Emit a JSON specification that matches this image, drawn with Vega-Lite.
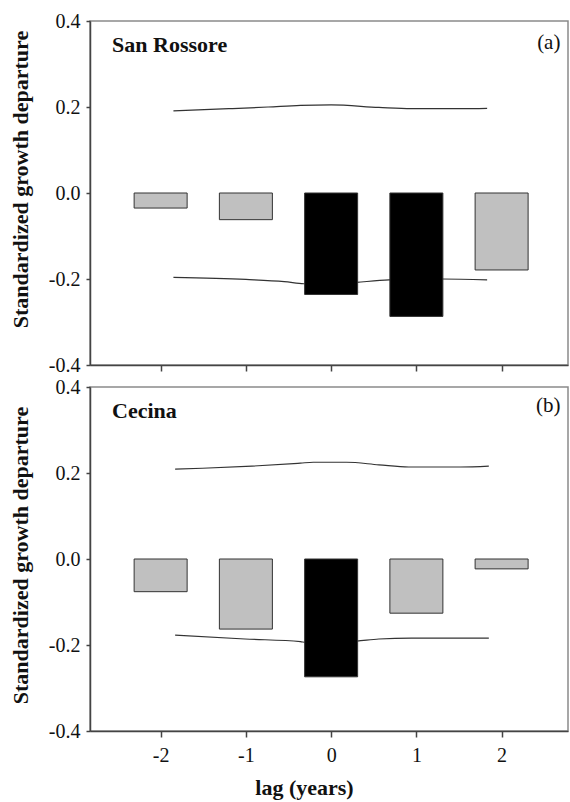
{
  "$schema": "https://vega.github.io/schema/vega-lite/v6.json",
  "background": "white",
  "padding": {"left": 8, "top": 10, "right": 2, "bottom": 2},
  "config": {
    "font": "Liberation Serif",
    "view": {"stroke": "#8a8a8a", "strokeWidth": 1.5},
    "axis": {
      "grid": false,
      "domainColor": "#444",
      "domainWidth": 1.5,
      "tickColor": "#444",
      "tickWidth": 1.5,
      "labelFont": "Liberation Serif",
      "labelFontSize": 20,
      "labelColor": "#111",
      "titleFont": "Liberation Serif",
      "titleFontSize": 22,
      "titleFontWeight": "bold",
      "titleColor": "#111",
      "labelExpr": "replace(datum.label, '\u2212', '-')"
    },
    "concat": {"spacing": 0}
  },
  "datasets": {
    "bars": [
      {"site": "San Rossore", "lag": -2, "value": -0.035, "significant": "no"},
      {"site": "San Rossore", "lag": -1, "value": -0.062, "significant": "no"},
      {"site": "San Rossore", "lag": 0, "value": -0.236, "significant": "yes"},
      {"site": "San Rossore", "lag": 1, "value": -0.287, "significant": "yes"},
      {"site": "San Rossore", "lag": 2, "value": -0.179, "significant": "no"},
      {"site": "Cecina", "lag": -2, "value": -0.076, "significant": "no"},
      {"site": "Cecina", "lag": -1, "value": -0.163, "significant": "no"},
      {"site": "Cecina", "lag": 0, "value": -0.274, "significant": "yes"},
      {"site": "Cecina", "lag": 1, "value": -0.126, "significant": "no"},
      {"site": "Cecina", "lag": 2, "value": -0.023, "significant": "no"}
    ],
    "bands": [
      {"site": "San Rossore", "bound": "upper", "lag": -1.85, "value": 0.191},
      {"site": "San Rossore", "bound": "upper", "lag": -1.2, "value": 0.196},
      {"site": "San Rossore", "bound": "upper", "lag": -0.74, "value": 0.2},
      {"site": "San Rossore", "bound": "upper", "lag": -0.36, "value": 0.204},
      {"site": "San Rossore", "bound": "upper", "lag": 0, "value": 0.205},
      {"site": "San Rossore", "bound": "upper", "lag": 0.56, "value": 0.199},
      {"site": "San Rossore", "bound": "upper", "lag": 0.94, "value": 0.196},
      {"site": "San Rossore", "bound": "upper", "lag": 1.52, "value": 0.196},
      {"site": "San Rossore", "bound": "upper", "lag": 1.83, "value": 0.197},
      {"site": "San Rossore", "bound": "lower", "lag": -1.85, "value": -0.196},
      {"site": "San Rossore", "bound": "lower", "lag": -1.0, "value": -0.201},
      {"site": "San Rossore", "bound": "lower", "lag": -0.55, "value": -0.206},
      {"site": "San Rossore", "bound": "lower", "lag": -0.32, "value": -0.211},
      {"site": "San Rossore", "bound": "lower", "lag": 0, "value": -0.213},
      {"site": "San Rossore", "bound": "lower", "lag": 0.3, "value": -0.208},
      {"site": "San Rossore", "bound": "lower", "lag": 0.68, "value": -0.202},
      {"site": "San Rossore", "bound": "lower", "lag": 1.0, "value": -0.201},
      {"site": "San Rossore", "bound": "lower", "lag": 1.3, "value": -0.2},
      {"site": "San Rossore", "bound": "lower", "lag": 1.83, "value": -0.202},
      {"site": "Cecina", "bound": "upper", "lag": -1.83, "value": 0.209},
      {"site": "Cecina", "bound": "upper", "lag": -1.51, "value": 0.211},
      {"site": "Cecina", "bound": "upper", "lag": -0.93, "value": 0.216},
      {"site": "Cecina", "bound": "upper", "lag": -0.36, "value": 0.223},
      {"site": "Cecina", "bound": "upper", "lag": -0.21, "value": 0.225},
      {"site": "Cecina", "bound": "upper", "lag": 0.18, "value": 0.225},
      {"site": "Cecina", "bound": "upper", "lag": 0.56, "value": 0.219},
      {"site": "Cecina", "bound": "upper", "lag": 0.91, "value": 0.214},
      {"site": "Cecina", "bound": "upper", "lag": 1.52, "value": 0.214},
      {"site": "Cecina", "bound": "upper", "lag": 1.85, "value": 0.216},
      {"site": "Cecina", "bound": "lower", "lag": -1.83, "value": -0.177},
      {"site": "Cecina", "bound": "lower", "lag": -1.01, "value": -0.186},
      {"site": "Cecina", "bound": "lower", "lag": -0.36, "value": -0.192},
      {"site": "Cecina", "bound": "lower", "lag": -0.3, "value": -0.194},
      {"site": "Cecina", "bound": "lower", "lag": 0, "value": -0.194},
      {"site": "Cecina", "bound": "lower", "lag": 0.3, "value": -0.191},
      {"site": "Cecina", "bound": "lower", "lag": 0.56, "value": -0.186},
      {"site": "Cecina", "bound": "lower", "lag": 0.94, "value": -0.184},
      {"site": "Cecina", "bound": "lower", "lag": 1.52, "value": -0.184},
      {"site": "Cecina", "bound": "lower", "lag": 1.85, "value": -0.184}
    ]
  },
  "vconcat": [
    {
      "width": 478,
      "height": 344,
      "encoding": {
        "x": {"type": "quantitative", "scale": {"domain": [-2.77, 2.72], "nice": false, "zero": false},
              "axis": {"values": [-2, -1, 0, 1, 2], "labels": false, "title": null, "tickSize": 6}},
        "y": {"type": "quantitative", "scale": {"domain": [-0.4, 0.4], "nice": false},
              "axis": {"values": [-0.4, -0.2, 0, 0.2, 0.4], "format": ".1f", "tickSize": 4, "labelPadding": 6, "titlePadding": 16, "titleY": 158, "title": "Standardized growth departure"}}
      },
      "layer": [
        {
          "data": {"name": "bands"},
          "transform": [{"filter": "datum.site == 'San Rossore'"}],
          "mark": {"type": "line", "interpolate": "monotone", "color": "#333", "strokeWidth": 1.2},
          "encoding": {"x": {"field": "lag"}, "y": {"field": "value"}, "detail": {"field": "bound"}}
        },
        {
          "data": {"name": "bars"},
          "transform": [{"filter": "datum.site == 'San Rossore'"}],
          "mark": {"type": "bar", "width": 53, "stroke": "#333", "strokeWidth": 1},
          "encoding": {
            "x": {"field": "lag"},
            "y": {"field": "value"},
            "color": {"field": "significant", "type": "nominal", "scale": {"domain": ["yes", "no"], "range": ["#000000", "#c0c0c0"]}, "legend": null}
          }
        },
        {
          "mark": {"type": "rule", "color": "#8a8a8a", "strokeWidth": 1.5},
          "encoding": {"y": {"datum": 0}}
        },
        {
          "data": {"values": [{}]},
          "mark": {"type": "text", "text": "San Rossore", "fontWeight": "bold", "fontSize": 22, "align": "left", "baseline": "middle", "color": "#111"},
          "encoding": {"x": {"datum": -2.57}, "y": {"datum": 0.345}}
        },
        {
          "data": {"values": [{}]},
          "mark": {"type": "text", "text": "(a)", "fontSize": 21, "align": "right", "baseline": "middle", "color": "#111"},
          "encoding": {"x": {"datum": 2.69}, "y": {"datum": 0.348}}
        }
      ]
    },
    {
      "width": 478,
      "height": 344,
      "encoding": {
        "x": {"type": "quantitative", "scale": {"domain": [-2.77, 2.72], "nice": false, "zero": false},
              "axis": {"values": [-2, -1, 0, 1, 2], "format": "d", "title": "lag (years)", "tickSize": 6, "labelPadding": 8, "titlePadding": 12, "titleX": 214}},
        "y": {"type": "quantitative", "scale": {"domain": [-0.4, 0.4], "nice": false},
              "axis": {"values": [-0.4, -0.2, 0, 0.2, 0.4], "format": ".1f", "tickSize": 4, "labelPadding": 6, "titlePadding": 16, "titleY": 168, "title": "Standardized growth departure"}}
      },
      "layer": [
        {
          "data": {"name": "bands"},
          "transform": [{"filter": "datum.site == 'Cecina'"}],
          "mark": {"type": "line", "interpolate": "monotone", "color": "#333", "strokeWidth": 1.2},
          "encoding": {"x": {"field": "lag"}, "y": {"field": "value"}, "detail": {"field": "bound"}}
        },
        {
          "data": {"name": "bars"},
          "transform": [{"filter": "datum.site == 'Cecina'"}],
          "mark": {"type": "bar", "width": 53, "stroke": "#333", "strokeWidth": 1},
          "encoding": {
            "x": {"field": "lag"},
            "y": {"field": "value"},
            "color": {"field": "significant", "type": "nominal", "scale": {"domain": ["yes", "no"], "range": ["#000000", "#c0c0c0"]}, "legend": null}
          }
        },
        {
          "mark": {"type": "rule", "color": "#8a8a8a", "strokeWidth": 1.5},
          "encoding": {"y": {"datum": 0}}
        },
        {
          "data": {"values": [{}]},
          "mark": {"type": "text", "text": "Cecina", "fontWeight": "bold", "fontSize": 22, "align": "left", "baseline": "middle", "color": "#111"},
          "encoding": {"x": {"datum": -2.57}, "y": {"datum": 0.345}}
        },
        {
          "data": {"values": [{}]},
          "mark": {"type": "text", "text": "(b)", "fontSize": 21, "align": "right", "baseline": "middle", "color": "#111"},
          "encoding": {"x": {"datum": 2.69}, "y": {"datum": 0.356}}
        }
      ]
    }
  ]
}
